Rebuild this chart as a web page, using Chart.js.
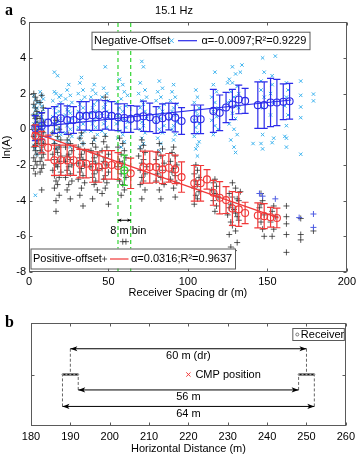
<!DOCTYPE html>
<html>
<head>
<meta charset="utf-8">
<script src="https://cdn.jsdelivr.net/npm/chart.js@4.4.1/dist/chart.umd.min.js"></script>
<style>
html,body{margin:0;padding:0;background:#fff;}
body{width:359px;height:456px;position:relative;overflow:hidden;}
canvas{position:absolute;left:0;display:block;}
#ca{top:0;} #cb{top:300px;}
</style>
</head>
<body>
<canvas id="ca" width="359" height="300"></canvas>
<canvas id="cb" width="359" height="156"></canvas>
<script>
// ================= Panel a data =================
const titleA = '15.1 Hz';
const xTitleA = 'Receiver Spacing dr (m)';
const yTitleA = 'ln(A)';
const xTicksA = [0, 50, 100, 150, 200];
const yTicksA = [-8, -6, -4, -2, 0, 2, 4, 6];

// binned means (negative offset, blue)
const negBinX = [4,8,12,16,20,24,28,32,36,40,44,48,52,56,60,64,68,72,76,80,84,88,92,96,104,108,116,120,124,128,132,136,144,148,152,156,160,164];
const negMean = [0.06,0.18,0.37,0.52,0.62,0.51,0.52,0.75,0.75,0.79,0.79,0.81,0.75,0.67,0.63,0.58,0.65,0.73,0.67,0.52,0.62,0.71,0.65,0.46,0.56,0.56,1.03,0.92,1.22,1.39,1.67,1.59,1.35,1.35,1.50,1.50,1.54,1.57];
const negSd   = [0.7,0.75,0.8,0.75,0.8,0.8,0.75,0.8,0.8,0.85,0.85,0.8,0.8,0.75,0.8,0.75,0.65,0.85,0.8,0.75,0.8,0.75,0.8,0.75,0.8,0.8,1.2,1.0,0.85,0.85,0.8,0.7,1.3,1.3,1.35,1.3,1.0,1.0];

// binned means (positive offset, red)
const posBinX = [4,8,12,16,20,24,28,32,36,40,44,48,52,56,64,72,76,80,84,88,92,96,104,108,112,116,120,124,128,132,136,144,148,152,156];
const posMean = [-0.36,-0.72,-1.03,-1.74,-1.74,-1.74,-1.74,-1.93,-1.93,-2.12,-2.12,-2.0,-2.0,-2.06,-2.47,-2.12,-2.12,-2.12,-2.25,-2.16,-2.25,-2.68,-3.03,-3.03,-2.81,-3.56,-3.84,-3.97,-4.44,-4.49,-4.69,-4.83,-4.87,-4.93,-4.97];
const posSd   = [0.6,0.6,0.7,0.85,0.85,0.85,0.85,0.8,0.8,0.85,0.85,0.8,0.8,0.75,0.85,0.9,0.9,0.85,0.8,0.8,0.8,0.85,1.0,1.0,0.55,0.7,0.9,0.75,0.95,0.95,0.6,0.7,0.7,0.55,0.55];

// highlighted 8 m bin (green)
const binEdges = [56, 64];
const hiBinX = [60];
const hiMean = [-2.3];
const hiSd = [0.85];
const binLabel = '8 m bin';

// fitted lines
const negFitX = [3, 165];
const negFitY = [0.12, 1.64];
const posFitX = [2, 157];
const posFitY = [-0.16, -4.97];

// legend texts
const negLegend = ['Negative-Offset', 'α=-0.0097;R²=0.9229'];
const posLegend = ['Positive-offset', 'α=0.0316;R²=0.9637'];

// individual samples, negative offset (cyan x)
const negPts = [
 [3,1.9],[4,1.7],[5,1.5],[3,1.3],[4,1.1],[5,0.9],[3,0.8],[4,0.6],[5,0.4],[3,0.3],[4,0.1],[5,-0.1],[3,-0.3],[4,-0.5],[5,-0.7],[3,-0.9],[4,-1.1],[5,-1.4],[4,-3.7],[4,0.0],[5,1.2],
 [7,2.1],[8,1.9],[9,1.7],[7,1.5],[8,1.3],[9,1.1],[7,0.9],[8,0.7],[9,0.5],[7,0.3],[8,0.1],[9,-0.1],[7,-0.3],[8,-0.5],[9,-0.7],[7,-0.9],[8,-1.2],[9,0.2],
 [16,3.2],[18,3.0],[17,2.0],[19,1.8],[15,1.6],[20,1.5],[18,1.3],[16,1.2],[19,1.0],[17,0.9],[15,0.7],[20,0.6],[18,0.4],[16,0.3],[19,0.1],[17,0.0],[15,-0.2],[20,-0.3],[18,-0.5],[16,-0.7],[19,-0.9],[17,-1.1],[20,1.9],[16,2.1],
 [25,2.5],[24,2.2],[26,1.9],[23,1.7],[27,1.5],[25,1.3],[24,1.1],[26,0.9],[23,0.8],[27,0.6],[25,0.4],[24,0.2],[26,0.0],[23,-0.2],[27,-0.4],[25,-0.6],[24,-0.8],[26,-1.0],[25,1.0],
 [33,2.9],[32,2.6],[34,2.2],[31,2.0],[35,1.8],[33,1.6],[32,1.4],[34,1.2],[31,1.0],[35,0.9],[33,0.7],[32,0.5],[34,0.3],[31,0.1],[35,-0.1],[33,-0.3],[32,-0.5],[34,-0.8],
 [41,2.5],[40,2.2],[42,2.0],[39,1.8],[43,1.6],[41,1.4],[40,1.2],[42,1.0],[39,0.9],[43,0.7],[41,0.5],[40,0.3],[42,0.1],[39,-0.1],[43,-0.3],[41,-0.6],
 [48,3.5],[47,2.3],[49,2.0],[46,1.8],[50,1.6],[48,1.4],[47,1.2],[49,1.0],[46,0.9],[50,0.7],[48,0.5],[47,0.3],[49,0.1],[46,-0.1],[48,-0.3],
 [57,2.8],[59,2.5],[56,2.3],[60,2.1],[62,1.9],[58,1.7],[55,1.5],[61,1.3],[57,1.2],[59,1.0],[56,0.8],[60,0.6],[58,0.5],[55,0.3],[61,0.1],[57,-0.1],[59,-0.3],[56,-0.5],[60,-0.7],[58,-1.0],[62,0.4],
 [71,3.8],[72,3.5],[70,2.6],[73,2.2],[69,2.0],[74,1.8],[71,1.6],[72,1.4],[70,1.2],[73,1.0],[69,0.8],[74,0.6],[71,0.4],[72,0.2],[70,0.0],[73,-0.2],[71,-0.5],[72,-0.8],[70,-1.0],
 [82,2.7],[84,2.3],[81,2.1],[83,1.8],[80,1.6],[85,1.4],[82,1.2],[84,1.0],[81,0.8],[83,0.6],[80,0.4],[85,0.2],[82,0.0],[84,-0.2],[81,-0.5],[83,-0.8],[82,-1.2],
 [91,2.5],[90,2.1],[92,1.8],[89,1.6],[93,1.4],[91,1.2],[90,1.0],[92,0.8],[89,0.6],[93,0.4],[91,0.2],[90,0.0],[92,-0.3],[91,-0.6],
 [105,2.2],[106,1.8],[104,1.5],[107,1.2],[105,1.0],[106,0.8],[104,0.5],[107,0.3],[105,0.1],[106,-0.2],[104,-0.4],[107,-0.7],[106,-0.9],[105,-1.1],[106,-1.5],
 [117,3.2],[116,2.5],[118,2.1],[115,1.8],[117,1.5],[119,1.2],[116,1.0],[118,0.7],[115,0.5],[117,0.2],[119,0.0],[116,-0.3],
 [128,3.5],[130,3.1],[126,2.8],[131,2.4],[127,2.1],[129,1.8],[125,1.5],[132,1.2],[128,0.9],[130,0.6],[126,0.3],[129,0.0],[131,-0.3],[127,-0.6],[133,3.2],[125,2.6],[129,-1.0],[130,-1.3],[134,3.6],[132,2.0],[127,1.6],[130,1.3],[128,2.6],
 [147,4.0],[155,4.1],[146,2.7],[153,2.5],[148,1.8],[154,1.5],[147,1.2],[152,0.8],[147,-0.3],[154,-0.5],[147,-1.1],[148,3.2],[153,3.0],[146,-0.8],[141,-0.8],[153,-0.75],[146,2.2],[152,2.0],
 [162,2.6],[163,2.2],[162,1.8],[161,1.3],[163,0.8],[162,0.2],[161,-0.4],[162,-0.5],[162,-1.0],
 [171,2.7],[171,1.9],[171,1.25],[171,0.65],[171,-1.4],
 [179,1.97],[179,1.59]
];

// individual samples, positive offset (black +)
const posPts = [
 [3,2.0],[4,1.8],[5,1.6],[3,1.4],[4,1.2],[5,1.0],[3,0.8],[4,0.6],[5,0.4],[3,0.2],[4,0.0],[5,-0.2],[3,-0.4],[4,-0.6],[5,-0.8],[3,-1.0],[4,-1.2],[5,-1.4],[3,-1.6],[4,-1.8],[5,-2.0],[3,-2.2],[4,-2.5],[5,0.7],[4,-0.9],
 [8,1.9],[7,1.5],[9,1.2],[8,0.9],[7,0.6],[9,0.4],[8,0.2],[7,0.0],[9,-0.2],[8,-0.4],[7,-0.6],[9,-0.8],[8,-1.0],[7,-1.2],[9,-1.4],[8,-1.6],[7,-1.8],[9,-2.0],[8,-2.2],[7,-2.4],[8,-3.4],
 [17,0.5],[16,0.2],[19,0.0],[15,-0.2],[18,-0.4],[20,-0.6],[16,-0.8],[19,-1.0],[17,-1.1],[18,-1.3],[15,-1.4],[20,-1.5],[16,-1.7],[19,-1.8],[17,-2.0],[18,-2.1],[15,-2.3],[20,-2.4],[16,-2.6],[19,-2.7],[17,-2.9],[18,-3.1],[16,-3.3],[19,-3.7],[17,-4.0],[17,-4.6],
 [25,-0.3],[24,-0.6],[26,-0.8],[23,-1.0],[27,-1.2],[25,-1.4],[24,-1.5],[26,-1.7],[23,-1.8],[27,-2.0],[25,-2.1],[24,-2.3],[26,-2.5],[23,-2.7],[27,-2.9],[25,-3.1],[24,-3.4],[26,-3.9],
 [33,-0.2],[32,-0.5],[34,-0.8],[31,-1.0],[35,-1.2],[33,-1.4],[32,-1.6],[34,-1.7],[31,-1.9],[35,-2.0],[33,-2.2],[32,-2.4],[34,-2.6],[31,-2.8],[35,-3.0],[33,-3.3],[32,-3.7],[34,-4.3],
 [41,-0.5],[40,-0.8],[42,-1.0],[39,-1.2],[43,-1.4],[41,-1.6],[40,-1.8],[42,-1.9],[39,-2.1],[43,-2.3],[41,-2.5],[40,-2.7],[42,-2.9],[41,-3.1],[43,-3.4],[40,-3.9],
 [48,-0.4],[47,-0.7],[49,-1.0],[46,-1.2],[50,-1.4],[48,-1.6],[47,-1.8],[49,-2.0],[46,-2.2],[50,-2.4],[48,-2.6],[47,-2.8],[49,-3.0],[48,-3.3],[46,-3.6],[50,-4.2],[48,1.8],
 [57,-0.5],[59,-0.8],[56,-1.0],[60,-1.2],[58,-1.4],[61,-1.6],[57,-1.8],[59,-1.9],[56,-2.1],[60,-2.3],[58,-2.5],[61,-2.7],[57,-2.9],[59,-3.1],[60,-3.4],[58,-3.7],[59,-6.3],[61,-6.3],
 [71,-0.6],[72,-0.9],[70,-1.1],[73,-1.3],[69,-1.5],[72,-1.7],[71,-1.9],[74,-2.1],[70,-2.3],[73,-2.5],[71,-2.7],[72,-2.9],[70,-3.1],[73,-3.4],[71,-3.9],
 [82,-0.8],[84,-1.1],[81,-1.3],[83,-1.5],[80,-1.7],[85,-1.9],[82,-2.1],[84,-2.3],[81,-2.5],[83,-2.7],[80,-2.9],[85,-3.1],[82,-3.4],[83,-3.9],
 [91,-1.0],[90,-1.3],[92,-1.5],[89,-1.8],[93,-2.0],[91,-2.2],[90,-2.4],[92,-2.6],[89,-2.8],[93,-3.0],[91,-3.3],[92,-3.8],
 [105,-2.0],[106,-2.3],[104,-2.5],[107,-2.7],[105,-2.9],[106,-3.1],[104,-3.3],[107,-3.5],[105,-3.7],[106,-3.9],[104,-4.2],
 [117,-2.8],[116,-3.0],[118,-3.2],[115,-3.4],[117,-3.6],[119,-3.8],[116,-4.0],[118,-4.3],[117,-4.6],
 [128,-3.0],[130,-3.3],[126,-3.6],[131,-3.9],[127,-4.2],[129,-4.5],[125,-4.8],[132,-5.1],[128,-5.4],[130,-5.7],[126,-5.9],[131,-6.35],[127,-6.6],[129,-6.8],[132,-4.0],[126,-4.4],[130,-4.7],[128,-3.8],[131,-4.9],[127,-5.2],[133,-3.5],
 [146,-3.6],[147,-4.0],[145,-4.4],[148,-4.8],[146,-5.2],[147,-5.6],[148,-6.0],[146,-4.2],
 [154,-4.3],[153,-4.6],[155,-4.9],[152,-5.2],[154,-5.6],[153,-6.0],
 [162,-4.3],[162,-4.9],[162,-5.3],[162,-5.9],[162,-6.9],
 [171,-5.0],[171,-5.9],[171,-6.2],
 [179,-5.7]
];
// far-offset positive samples shown in blue +
const posFarPts = [[145,-3.6],[147,-3.75],[155,-3.9],[170,-4.95],[179,-4.75],[179,-5.5]];

// ================= Panel b data =================
const xTitleB = 'Horizontal Distance (m)';
const xTicksB = [180, 190, 200, 210, 220, 230, 240, 250, 260];
const yTicksB = [0];
const dimLabels = ['60 m (dr)', '56 m', '64 m'];
const dimStart = [190, 192, 188];
const dimEnd = [250, 248, 252];
const dimLevel = [0.5, -0.3, -0.62];
const rxLeft = [188, 189, 190, 191, 192];
const rxRight = [248, 249, 250, 251, 252];
const cmpX = [220];
const cmpLabel = 'CMP position';
const rxLegend = 'Receiver';

// ================= Styling =================
const FONT = '"Liberation Sans", Arial, Helvetica, sans-serif';
Chart.defaults.font.family = FONT;
Chart.defaults.font.size = 11;
Chart.defaults.color = '#000';
const COL = {cyan:'#3cb2ee', black:'rgba(35,35,35,0.75)', blue:'#2b2bea', red:'#f03838', green:'#2fd42f', far:'#4e5ce2', axis:'#5a5a5a'};

const xy = (xs, ys) => xs.map((x, i) => ({x, y: ys[i]}));
const pts = arr => arr.map(p => ({x: p[0], y: p[1]}));

// ---- plugins ----
const errorBars = {
  id: 'errorBars',
  afterDatasetDraw(chart, args) {
    const ds = chart.data.datasets[args.index];
    if (!ds.sd) return;
    const ctx = chart.ctx, ys = chart.scales.y;
    ctx.save();
    ctx.strokeStyle = ds.borderColor; ctx.lineWidth = 1.2;
    ctx.beginPath();
    args.meta.data.forEach((el, j) => {
      const v = ds.data[j].y, s = ds.sd[j];
      const x = el.x, t = ys.getPixelForValue(v + s), b = ys.getPixelForValue(v - s);
      ctx.moveTo(x, t); ctx.lineTo(x, b);
      ctx.moveTo(x - 3.5, t); ctx.lineTo(x + 3.5, t);
      ctx.moveTo(x - 3.5, b); ctx.lineTo(x + 3.5, b);
    });
    ctx.stroke(); ctx.restore();
  }
};

const frame = {
  id: 'frame',
  afterDatasetsDraw(chart, args, o) {
    const {ctx, chartArea: a, scales: {x, y}} = chart;
    ctx.save(); ctx.strokeStyle = COL.axis; ctx.lineWidth = 1;
    const L = Math.round(a.left) + 0.5, R = Math.round(a.right) - 0.5, T = Math.round(a.top) + 0.5, B = Math.round(a.bottom) - 0.5;
    ctx.strokeRect(L, T, R - L, B - T);
    ctx.beginPath();
    (o.xTicks || []).forEach(v => { const p = Math.round(x.getPixelForValue(v)) + 0.5; ctx.moveTo(p, B); ctx.lineTo(p, B - o.len); ctx.moveTo(p, T); ctx.lineTo(p, T + o.len); });
    (o.yTicks || []).forEach(v => { const p = Math.round(y.getPixelForValue(v)) + 0.5; ctx.moveTo(L, p); ctx.lineTo(L + o.len, p); ctx.moveTo(R, p); ctx.lineTo(R - o.len, p); });
    ctx.stroke(); ctx.restore();
  }
};

function arrowHead(ctx, x, y, dir, len, half) {
  ctx.beginPath();
  ctx.moveTo(x, y);
  ctx.lineTo(x - dir * len, y - half);
  ctx.lineTo(x - dir * len * 0.75, y);
  ctx.lineTo(x - dir * len, y + half);
  ctx.closePath(); ctx.fill();
}
function crossRot(ctx, x, y, r) { ctx.moveTo(x - r, y - r); ctx.lineTo(x + r, y + r); ctx.moveTo(x + r, y - r); ctx.lineTo(x - r, y + r); }
function cross(ctx, x, y, r) { ctx.moveTo(x - r, y); ctx.lineTo(x + r, y); ctx.moveTo(x, y - r); ctx.lineTo(x, y + r); }
function legendBox(ctx, x, y, w, h) {
  ctx.fillStyle = '#fff'; ctx.fillRect(x, y, w, h);
  ctx.strokeStyle = COL.axis; ctx.lineWidth = 1; ctx.strokeRect(x + 0.5, y + 0.5, w, h);
}

const extrasA = {
  id: 'extrasA',
  afterDraw(chart) {
    const {ctx, scales: {x, y}, chartArea: a} = chart;
    ctx.save();
    ctx.fillStyle = '#000';
    ctx.font = 'bold 16px "Liberation Serif", "Times New Roman", serif';
    ctx.textAlign = 'left'; ctx.textBaseline = 'alphabetic';
    ctx.fillText('a', 5, 15);

    // 8 m bin dimension arrow
    const x1 = x.getPixelForValue(binEdges[0]), x2 = x.getPixelForValue(binEdges[1]);
    const ya = y.getPixelForValue(-5.1);
    ctx.strokeStyle = '#000'; ctx.lineWidth = 1;
    ctx.beginPath(); ctx.moveTo(x1, ya); ctx.lineTo(x2, ya); ctx.stroke();
    arrowHead(ctx, x1, ya, -1, 3.5, 1.8); arrowHead(ctx, x2, ya, 1, 3.5, 1.8);
    ctx.font = '11px ' + FONT; ctx.textAlign = 'center'; ctx.textBaseline = 'middle';
    ctx.fillText(binLabel, x.getPixelForValue(62.5), y.getPixelForValue(-5.68));

    // top legend (negative offset)
    const lx = a.left + 62.5, ly = a.top + 9.5;
    legendBox(ctx, lx, ly, 218, 17.5);
    const cy = ly + 9;
    ctx.fillStyle = '#000'; ctx.textAlign = 'left'; ctx.textBaseline = 'middle';
    ctx.fillText(negLegend[0], lx + 2.5, cy);
    ctx.strokeStyle = COL.cyan; ctx.lineWidth = 1; ctx.beginPath(); crossRot(ctx, lx + 80, cy, 2.2); ctx.stroke();
    ctx.strokeStyle = COL.blue; ctx.lineWidth = 1.2; ctx.beginPath(); ctx.moveTo(lx + 86.5, cy); ctx.lineTo(lx + 105.5, cy); ctx.stroke();
    ctx.fillStyle = '#000'; ctx.fillText(negLegend[1], lx + 110, cy);

    // bottom legend (positive offset)
    const bx = a.left + 1.5, by = a.bottom - 23.5;
    legendBox(ctx, bx, by, 204.5, 20);
    const cb = by + 10.5;
    ctx.fillStyle = '#000';
    ctx.fillText(posLegend[0], bx + 2.5, cb);
    ctx.strokeStyle = 'rgba(60,60,60,0.8)'; ctx.lineWidth = 1; ctx.beginPath(); cross(ctx, bx + 74, cb, 2.6); ctx.stroke();
    ctx.strokeStyle = COL.red; ctx.lineWidth = 1.2; ctx.beginPath(); ctx.moveTo(bx + 79.5, cb); ctx.lineTo(bx + 98, cb); ctx.stroke();
    ctx.fillStyle = '#000'; ctx.fillText(posLegend[1], bx + 100.5, cb);
    ctx.restore();
  }
};

const arrowsB = {
  id: 'arrowsB',
  afterDatasetDraw(chart, args) {
    const ds = chart.data.datasets[args.index];
    if (!ds.dimArrow) return;
    const ctx = chart.ctx, d = args.meta.data;
    ctx.save(); ctx.fillStyle = '#000';
    arrowHead(ctx, d[0].x, d[0].y, -1, 7, 2.6);
    arrowHead(ctx, d[1].x, d[1].y, 1, 7, 2.6);
    ctx.restore();
  },
  afterDraw(chart) {
    const {ctx, scales: {x, y}, chartArea: a} = chart;
    ctx.save();
    ctx.fillStyle = '#000';
    ctx.font = 'bold 16px "Liberation Serif", "Times New Roman", serif';
    ctx.textAlign = 'left'; ctx.textBaseline = 'alphabetic';
    ctx.fillText('b', 5, 27);
    ctx.font = '11px ' + FONT;
    ctx.textAlign = 'center'; ctx.textBaseline = 'middle';
    dimLabels.forEach((t, i) => {
      const cx = x.getPixelForValue((dimStart[i] + dimEnd[i]) / 2);
      ctx.fillText(t, cx, y.getPixelForValue(dimLevel[i]) + 7.5);
    });
    ctx.textAlign = 'left';
    ctx.fillText(cmpLabel, x.getPixelForValue(cmpX[0]) + 7, y.getPixelForValue(0));
    // receiver legend
    const lx = a.right - 53.5, ly = a.top + 5;
    legendBox(ctx, lx, ly, 51.5, 12);
    ctx.strokeStyle = '#777'; ctx.lineWidth = 1;
    ctx.beginPath(); ctx.arc(lx + 5, ly + 6.5, 1.5, 0, Math.PI * 2); ctx.stroke();
    ctx.fillStyle = '#000'; ctx.textAlign = 'left'; ctx.textBaseline = 'middle';
    ctx.fillText(rxLegend, lx + 8.5, ly + 6.5);
    ctx.restore();
  }
};

// ================= Panel a chart =================
const yMinA = -8, yMaxA = 6;
const dsA = [
  {label: 'Negative-Offset samples', data: pts(negPts), pointStyle: 'crossRot', pointRadius: 2.4, borderColor: COL.cyan, borderWidth: 1, order: 20},
  {label: 'Positive-offset samples', data: pts(posPts), pointStyle: 'cross', pointRadius: 3, borderColor: COL.black, borderWidth: 1, order: 19},
  {label: 'Positive-offset far', data: pts(posFarPts), pointStyle: 'cross', pointRadius: 3, borderColor: COL.far, borderWidth: 1, order: 18},
  ...binEdges.map(e => ({label: 'bin edge', data: [{x: e, y: yMinA}, {x: e, y: yMaxA}], showLine: true, borderColor: COL.green, borderWidth: 1.2, borderDash: [4, 3], pointRadius: 0, order: 15})),
  {label: 'Negative-Offset mean', data: xy(negBinX, negMean), sd: negSd, pointStyle: 'circle', pointRadius: 3.5, borderColor: COL.blue, backgroundColor: 'rgba(0,0,0,0)', borderWidth: 1.1, order: 10},
  {label: 'Negative-Offset fit', data: xy(negFitX, negFitY), showLine: true, borderColor: COL.blue, borderWidth: 1.2, pointRadius: 0, order: 9},
  {label: 'Positive-offset mean', data: xy(posBinX, posMean), sd: posSd, pointStyle: 'circle', pointRadius: 3.5, borderColor: COL.red, backgroundColor: 'rgba(0,0,0,0)', borderWidth: 1.1, order: 8},
  {label: 'Positive-offset fit', data: xy(posFitX, posFitY), showLine: true, borderColor: COL.red, borderWidth: 1.2, pointRadius: 0, order: 7},
  {label: '8 m bin mean', data: xy(hiBinX, hiMean), sd: hiSd, pointStyle: 'circle', pointRadius: 3.5, borderColor: COL.green, backgroundColor: 'rgba(0,0,0,0)', borderWidth: 1.2, order: 6}
];

new Chart(document.getElementById('ca'), {
  type: 'scatter',
  data: {datasets: dsA},
  options: {
    responsive: false, animation: false, events: [],
    layout: {padding: {left: 0, right: 11, top: 0, bottom: 0}},
    plugins: {
      legend: {display: false}, tooltip: {enabled: false},
      title: {display: true, text: titleA, font: {size: 11, weight: 'normal'}, color: '#000', padding: {top: 4, bottom: 5}},
      frame: {xTicks: xTicksA, yTicks: yTicksA, len: 3}
    },
    scales: {
      x: {type: 'linear', min: 0, max: 200,
          afterBuildTicks: s => { s.ticks = xTicksA.map(v => ({value: v})); },
          ticks: {padding: 3, maxRotation: 0, color: '#000'},
          grid: {display: false, drawTicks: false, tickLength: 0}, border: {display: false},
          title: {display: true, text: xTitleA, color: '#000', padding: {top: 0, bottom: 0}},
          afterFit: s => { s.height = 28; }},
      y: {type: 'linear', min: yMinA, max: yMaxA,
          afterBuildTicks: s => { s.ticks = yTicksA.map(v => ({value: v})); },
          ticks: {padding: 3, color: '#000'},
          grid: {display: false, drawTicks: false, tickLength: 0}, border: {display: false},
          title: {display: true, text: yTitleA, color: '#000', padding: {top: 0, bottom: 0}},
          afterFit: s => { s.width = 29; }}
    }
  },
  plugins: [errorBars, frame, extrasA]
});

// ================= Panel b chart =================
const dsB = [];
dimStart.forEach((s, i) => {
  dsB.push({label: 'drop', data: [{x: s, y: dimLevel[i]}, {x: s, y: 0}], showLine: true, borderColor: '#666', borderWidth: 1, borderDash: [3, 2], pointRadius: 0, order: 10});
  dsB.push({label: 'drop', data: [{x: dimEnd[i], y: dimLevel[i]}, {x: dimEnd[i], y: 0}], showLine: true, borderColor: '#666', borderWidth: 1, borderDash: [3, 2], pointRadius: 0, order: 10});
  dsB.push({label: dimLabels[i], data: [{x: s, y: dimLevel[i]}, {x: dimEnd[i], y: dimLevel[i]}], dimArrow: true, showLine: true, borderColor: '#000', borderWidth: 1, pointRadius: 0, order: 5});
});
[rxLeft, rxRight].forEach(r => dsB.push({label: 'Receiver', data: r.map(v => ({x: v, y: 0})), showLine: true, borderColor: '#111', borderWidth: 2.2, pointRadius: 0.8, pointBorderColor: '#999', pointBackgroundColor: '#999', pointBorderWidth: 0.5, order: 4}));
dsB.push({label: cmpLabel, data: cmpX.map(v => ({x: v, y: 0})), pointStyle: 'crossRot', pointRadius: 3, borderColor: COL.red, borderWidth: 1, order: 3});

new Chart(document.getElementById('cb'), {
  type: 'scatter',
  data: {datasets: dsB},
  options: {
    responsive: false, animation: false, events: [],
    layout: {padding: {left: 0, right: 11, top: 23, bottom: 0}},
    plugins: {legend: {display: false}, tooltip: {enabled: false}, title: {display: false},
      frame: {xTicks: xTicksB, yTicks: yTicksB, len: 3}},
    scales: {
      x: {type: 'linear', min: 180, max: 260,
          afterBuildTicks: s => { s.ticks = xTicksB.map(v => ({value: v})); },
          ticks: {padding: 4, maxRotation: 0, color: '#000'},
          grid: {display: false, drawTicks: false, tickLength: 0}, border: {display: false},
          title: {display: true, text: xTitleB, color: '#000', padding: {top: 0, bottom: 0}},
          afterFit: s => { s.height = 30; }},
      y: {type: 'linear', min: -1, max: 1,
          ticks: {display: false},
          grid: {display: false, drawTicks: false, tickLength: 0}, border: {display: false},
          afterFit: s => { s.width = 31; }}
    }
  },
  plugins: [frame, arrowsB]
});
</script>
</body>
</html>
